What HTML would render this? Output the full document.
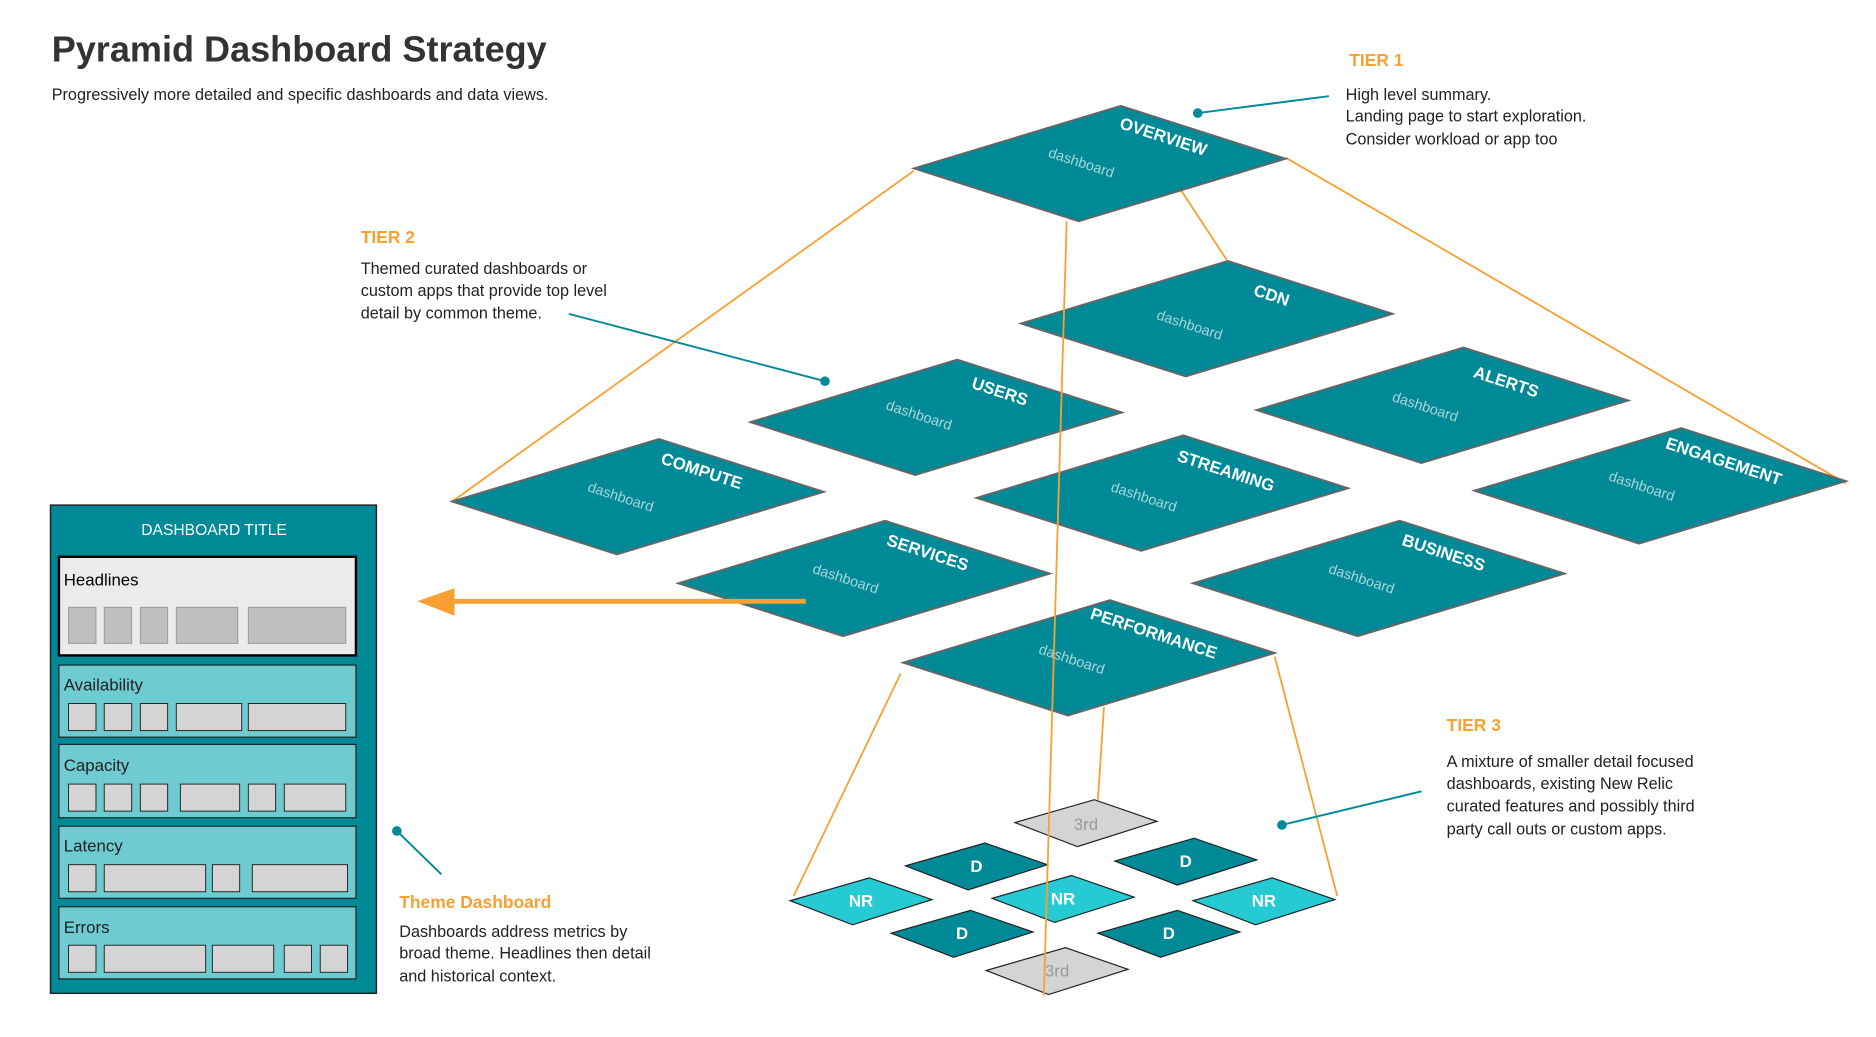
<!DOCTYPE html>
<html><head><meta charset="utf-8"><style>
html,body{margin:0;padding:0;background:#fff;}
svg{display:block;}
text{font-family:"Liberation Sans","DejaVu Sans",sans-serif;}
</style></head><body>
<svg width="1876" height="1037" viewBox="0 0 1560 862.3" preserveAspectRatio="none" xmlns="http://www.w3.org/2000/svg">
<defs>
<polygon id="big" points="0,0 172,-52 309,-8 137,44" fill="#008996" stroke="#666" stroke-width="1.6"/>
</defs>
<!-- orange lines behind -->
<g stroke="#f8a032" stroke-width="1.5" fill="none">
<line x1="760" y1="142" x2="376" y2="417"/>
<line x1="1069" y1="131" x2="1535" y2="402"/>
<line x1="982" y1="158" x2="1020" y2="216"/>
</g>
<!-- big tiles -->
<g>
<use href="#big" x="760" y="140"/>
<use href="#big" x="849" y="269"/>
<use href="#big" x="624" y="351"/>
<use href="#big" x="1045" y="341"/>
<use href="#big" x="376" y="417"/>
<use href="#big" x="812" y="414"/>
<use href="#big" x="1226" y="408"/>
<use href="#big" x="564" y="485"/>
<use href="#big" x="992" y="485"/>
<use href="#big" x="751" y="551"/>
</g>
<g font-size="14" font-weight="bold" fill="#fff" text-anchor="middle">
<text transform="translate(966,118) rotate(18)">OVERVIEW</text>
<text transform="translate(1056,250) rotate(18)">CDN</text>
<text transform="translate(830,330) rotate(18)">USERS</text>
<text transform="translate(1251,322) rotate(18)">ALERTS</text>
<text transform="translate(582,396) rotate(18)">COMPUTE</text>
<text transform="translate(1018,396) rotate(18)">STREAMING</text>
<text transform="translate(1432,388) rotate(18)">ENGAGEMENT</text>
<text transform="translate(770,464) rotate(18)">SERVICES</text>
<text transform="translate(1199,464) rotate(18)">BUSINESS</text>
<text transform="translate(958,531) rotate(18)">PERFORMANCE</text>
</g>
<g font-size="12" fill="#a9d6d9" text-anchor="middle">
<text transform="translate(898,139) rotate(18)">dashboard</text>
<text transform="translate(988,274) rotate(18)">dashboard</text>
<text transform="translate(763,349) rotate(18)">dashboard</text>
<text transform="translate(1184,342) rotate(18)">dashboard</text>
<text transform="translate(515,417) rotate(18)">dashboard</text>
<text transform="translate(950,417) rotate(18)">dashboard</text>
<text transform="translate(1364,408) rotate(18)">dashboard</text>
<text transform="translate(702,485) rotate(18)">dashboard</text>
<text transform="translate(1131,485) rotate(18)">dashboard</text>
<text transform="translate(890,552) rotate(18)">dashboard</text>
</g>
<!-- tier 3 small tiles -->
<g stroke="#222" stroke-width="1">
<polygon points="844,684 910,665 962,683 896,704" fill="#d4d4d4"/>
<polygon points="753,720 819,701 871,719 805,740" fill="#008996"/>
<polygon points="927,716 993,697 1045,715 979,736" fill="#008996"/>
<polygon points="657,749 723,730 775,748 709,769" fill="#26cad2"/>
<polygon points="825,747 891,728 943,746 877,767" fill="#26cad2"/>
<polygon points="992,749 1058,730 1110,748 1044,769" fill="#26cad2"/>
<polygon points="741,776 807,757 859,775 793,796" fill="#008996"/>
<polygon points="913,776 979,757 1031,775 965,796" fill="#008996"/>
<polygon points="820,807 886,788 938,806 872,827" fill="#d4d4d4"/>
</g>
<g font-size="14" font-weight="bold" fill="#fff" text-anchor="middle">
<text x="812" y="725">D</text>
<text x="986" y="721">D</text>
<text x="716" y="754">NR</text>
<text x="884" y="752">NR</text>
<text x="1051" y="754">NR</text>
<text x="800" y="781">D</text>
<text x="972" y="781">D</text>
</g>
<g font-size="14" fill="#999" text-anchor="middle">
<text x="903" y="690">3rd</text>
<text x="879" y="812">3rd</text>
</g>
<!-- orange lines front -->
<g stroke="#f8a032" stroke-width="1.5" fill="none">
<line x1="887" y1="184" x2="868" y2="828"/>
<line x1="749" y1="560" x2="660" y2="745"/>
<line x1="1060" y1="546" x2="1112" y2="745"/>
<line x1="918" y1="588" x2="913" y2="665"/>
</g>
<line x1="670" y1="500" x2="372" y2="500" stroke="#f8a032" stroke-width="4"/>
<polygon points="347,500 378,489 378,512" fill="#f8a032"/>
<!-- teal connectors -->
<g stroke="#008996" stroke-width="1.6" fill="#008996">
<line x1="996" y1="94" x2="1105" y2="80"/><circle cx="996" cy="94" r="3.2"/>
<line x1="473" y1="261" x2="686" y2="317"/><circle cx="686" cy="317" r="3.2"/>
<line x1="1066" y1="686" x2="1182" y2="658"/><circle cx="1066" cy="686" r="3.2"/>
<line x1="330" y1="691" x2="367" y2="727"/><circle cx="330" cy="691" r="3.2"/>
</g>
<!-- texts -->
<text x="43" y="51" font-size="30" font-weight="bold" fill="#333">Pyramid Dashboard Strategy</text>
<g font-size="13.5" fill="#222">
<text x="43" y="83">Progressively more detailed and specific dashboards and data views.</text>
<text x="1119" y="83">High level summary.</text>
<text x="1119" y="101">Landing page to start exploration.</text>
<text x="1119" y="120">Consider workload or app too</text>
<text x="300" y="228">Themed curated dashboards or</text>
<text x="300" y="246">custom apps that provide top level</text>
<text x="300" y="265">detail by common theme.</text>
<text x="1203" y="638">A mixture of smaller detail focused</text>
<text x="1203" y="656">dashboards, existing New Relic</text>
<text x="1203" y="675">curated features and possibly third</text>
<text x="1203" y="694">party call outs or custom apps.</text>
<text x="332" y="779">Dashboards address metrics by</text>
<text x="332" y="797">broad theme. Headlines then detail</text>
<text x="332" y="816">and historical context.</text>
</g>
<g font-size="14.5" font-weight="bold" fill="#f8a032">
<text x="1122" y="55">TIER 1</text>
<text x="300" y="202">TIER 2</text>
<text x="1203" y="608">TIER 3</text>
<text x="332" y="755">Theme Dashboard</text>
</g>
<!-- dashboard panel -->
<rect x="42" y="420" width="271" height="406" fill="#008996" stroke="#222" stroke-width="1.2"/>
<text x="178" y="445" font-size="13" fill="#fff" text-anchor="middle">DASHBOARD TITLE</text>
<rect x="49" y="463" width="247" height="82" fill="#ebebeb" stroke="#000" stroke-width="2"/>
<g fill="#6ecbd1" stroke="#222" stroke-width="1">
<rect x="49" y="553" width="247" height="60"/>
<rect x="49" y="619" width="247" height="61"/>
<rect x="49" y="687" width="247" height="60"/>
<rect x="49" y="754" width="247" height="60"/>
</g>
<g font-size="14" fill="#222">
<text x="53" y="487" fill="#000">Headlines</text>
<text x="53" y="574">Availability</text>
<text x="53" y="641">Capacity</text>
<text x="53" y="708">Latency</text>
<text x="53" y="776">Errors</text>
</g>
<g fill="#bfbfbf" stroke="#999" stroke-width="0.8">
<rect x="57" y="505" width="22.8" height="30"/>
<rect x="86.7" y="505" width="22.8" height="30"/>
<rect x="116.7" y="505" width="22.7" height="30"/>
<rect x="146.6" y="505" width="51.1" height="30"/>
<rect x="206.5" y="505" width="81" height="30"/>
</g>
<g fill="#d4d4d4" stroke="#222" stroke-width="0.8">
<rect x="57" y="585" width="22.8" height="22.5"/>
<rect x="86.7" y="585" width="22.8" height="22.5"/>
<rect x="116.7" y="585" width="22.7" height="22.5"/>
<rect x="146.6" y="585" width="54.4" height="22.5"/>
<rect x="206.5" y="585" width="81" height="22.5"/>

<rect x="57" y="652" width="22.8" height="22.5"/>
<rect x="86.7" y="652" width="22.8" height="22.5"/>
<rect x="116.7" y="652" width="22.7" height="22.5"/>
<rect x="150" y="652" width="49.3" height="22.5"/>
<rect x="206.5" y="652" width="22.7" height="22.5"/>
<rect x="236.4" y="652" width="51.1" height="22.5"/>

<rect x="57" y="719" width="22.8" height="22.5"/>
<rect x="86.7" y="719" width="84.3" height="22.5"/>
<rect x="176.6" y="719" width="22.7" height="22.5"/>
<rect x="209.8" y="719" width="79.2" height="22.5"/>

<rect x="57" y="786" width="22.8" height="22.5"/>
<rect x="86.7" y="786" width="84.3" height="22.5"/>
<rect x="176.6" y="786" width="51" height="22.5"/>
<rect x="236.4" y="786" width="22.6" height="22.5"/>
<rect x="266.3" y="786" width="22.7" height="22.5"/>
</g>
</svg>
</body></html>
